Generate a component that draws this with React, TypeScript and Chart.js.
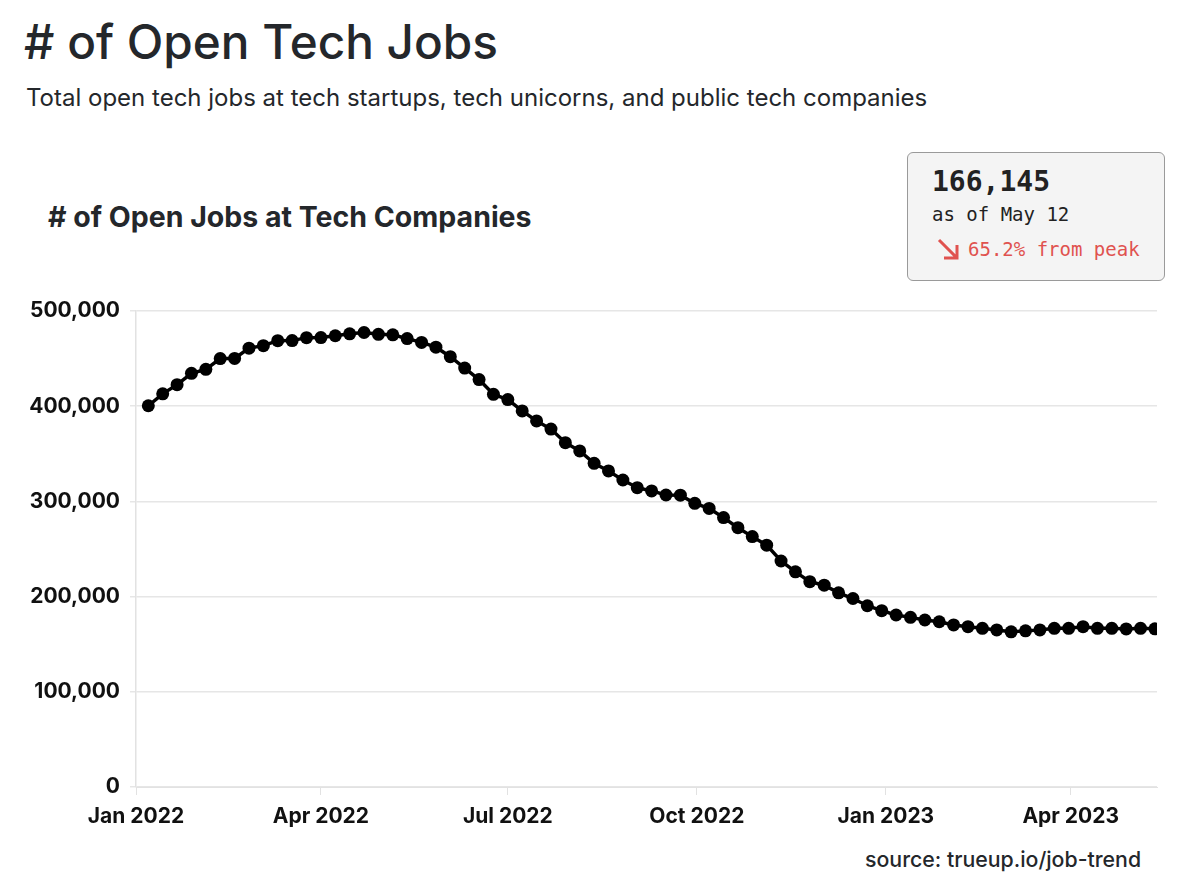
import React, { useEffect, useRef } from "react";
import { Chart, registerables } from "chart.js";

Chart.register(...registerables);

// ---- data ----
const FIRST_WEEK = "2022-01-07"; // weekly snapshots (Fridays)
const openJobs: number[] = [
  400500, 413000, 422600, 434500, 438700, 450000, 450200, 461000, 463600, 468800,
  468900, 472000, 472100, 474000, 476000, 477400, 475500, 475000, 471000, 467000,
  462000, 452000, 440000, 428000, 412500, 407000, 395000, 384500, 376000, 361700,
  353000, 340000, 332000, 322500, 314400, 311000, 306700, 306500, 298000, 292600,
  283000, 272400, 263000, 254000, 237400, 226000, 215700, 212000, 204000, 198000,
  190400, 185200, 180700, 178200, 175400, 173600, 170200, 168400, 166700, 165000,
  163000, 164000, 165000, 166700, 166700, 168400, 166700, 166700, 166000, 166700,
  166145,
];
const tickDates: string[] = ["2022-01-01", "2022-04-01", "2022-07-01", "2022-10-01", "2023-01-01", "2023-04-01"];
const tickLabels: string[] = ["Jan 2022", "Apr 2022", "Jul 2022", "Oct 2022", "Jan 2023", "Apr 2023"];
const yTicks: number[] = [0, 100000, 200000, 300000, 400000, 500000];

const ORIGIN = Date.UTC(2022, 0, 1);
const DAY = 86400000;
function dayOffset(iso: string): number {
  const [y, m, d] = iso.split("-").map(Number);
  return (Date.UTC(y, m - 1, d) - ORIGIN) / DAY;
}

const SANS = "Inter, 'Noto Sans', sans-serif";
const MONO = "'DejaVu Sans Mono', monospace";

export default function App() {
  const canvasRef = useRef<HTMLCanvasElement | null>(null);

  useEffect(() => {
    if (!canvasRef.current) return;
    const start = dayOffset(FIRST_WEEK);
    const points = openJobs.map((v, i) => ({ x: start + 7 * i, y: v }));
    const tickVals = tickDates.map(dayOffset);

    const chart = new Chart(canvasRef.current, {
      type: "line",
      data: {
        datasets: [
          {
            data: points,
            borderColor: "#000",
            backgroundColor: "#000",
            borderWidth: 3.5,
            pointRadius: 6.5,
            pointHoverRadius: 6.5,
            pointBorderWidth: 0,
            tension: 0,
          },
        ],
      },
      options: {
        animation: false,
        responsive: false,
        maintainAspectRatio: false,
        layout: { padding: { top: 31, right: 43, left: 0, bottom: 0 } },
        plugins: { legend: { display: false }, tooltip: { enabled: false } },
        scales: {
          x: {
            type: "linear",
            min: 0,
            max: 497,
            afterBuildTicks: (scale: any) => {
              scale.ticks = tickVals.map((v) => ({ value: v }));
            },
            afterFit: (scale: any) => {
              scale.height = 53;
            },
            ticks: {
              autoSkip: false,
              maxRotation: 0,
              padding: 9,
              color: "#111",
              font: { family: SANS, size: 21, weight: "bold" },
              callback: (v: any) => {
                const idx = tickVals.indexOf(Number(v));
                return idx >= 0 ? tickLabels[idx] : "";
              },
            },
            grid: {
              drawOnChartArea: false,
              drawTicks: true,
              tickLength: 8,
              color: "#e2e2e2",
            },
            border: { display: true, color: "#e2e2e2", width: 1 },
          },
          y: {
            min: 0,
            max: 500000,
            afterBuildTicks: (scale: any) => {
              scale.ticks = yTicks.map((v) => ({ value: v }));
            },
            afterFit: (scale: any) => {
              scale.width = 136;
            },
            ticks: {
              padding: 10,
              color: "#111",
              font: { family: SANS, size: 21, weight: "bold" },
              callback: (v: any) => Number(v).toLocaleString("en-US"),
            },
            grid: {
              color: "#e6e6e6",
              drawTicks: true,
              tickLength: 6,
              lineWidth: 1.5,
            },
            border: { display: true, color: "#e2e2e2", width: 1.5 },
          },
        },
      },
    });
    return () => chart.destroy();
  }, []);

  return (
    <div
      style={{
        position: "absolute",
        left: 0,
        top: 0,
        width: 1200,
        height: 895,
        background: "#fff",
        fontFamily: SANS,
        color: "#24272b",
        overflow: "hidden",
      }}
    >
      <div style={{ position: "absolute", left: 24, top: 12, fontSize: 47.7, fontWeight: 500, whiteSpace: "nowrap", lineHeight: "60px" }}>
        # of Open Tech Jobs
      </div>
      <div style={{ position: "absolute", left: 26, top: 83, fontSize: 24, fontWeight: 400, whiteSpace: "nowrap", lineHeight: "30px" }}>
        Total open tech jobs at tech startups, tech unicorns, and public tech companies
      </div>
      <div style={{ position: "absolute", left: 48, top: 199, fontSize: 28.5, fontWeight: 700, whiteSpace: "nowrap", lineHeight: "36px" }}>
        # of Open Jobs at Tech Companies
      </div>

      <div
        style={{
          position: "absolute",
          left: 907,
          top: 152,
          width: 256,
          height: 127,
          border: "1.5px solid #9a9a9a",
          borderRadius: 6,
          background: "#f4f4f4",
          fontFamily: MONO,
        }}
      >
        <div style={{ position: "absolute", left: 24, top: 12, fontSize: 28, fontWeight: 700, color: "#222", lineHeight: "34px" }}>166,145</div>
        <div style={{ position: "absolute", left: 24, top: 49, fontSize: 19, color: "#222", lineHeight: "24px" }}>as of May 12</div>
        <div style={{ position: "absolute", left: 28, top: 84, fontSize: 19, color: "#e0524f", lineHeight: "24px", display: "flex", alignItems: "center", whiteSpace: "nowrap" }}>
          <svg width="26" height="24" viewBox="0 0 26 24" style={{ marginRight: 6 }}>
            <path d="M3 3 L21 21 M21 8 L21 21 L8 21" stroke="#e0524f" strokeWidth="3" fill="none" />
          </svg>
          65.2% from peak
        </div>
      </div>

      <canvas
        ref={canvasRef}
        width={1200}
        height={560}
        style={{ position: "absolute", left: 0, top: 280, width: 1200, height: 560 }}
      />

      <div style={{ position: "absolute", left: 865, top: 845, fontSize: 21.3, fontWeight: 500, whiteSpace: "nowrap", lineHeight: "28px", color: "#24272b" }}>
        source: trueup.io/job-trend
      </div>
    </div>
  );
}
